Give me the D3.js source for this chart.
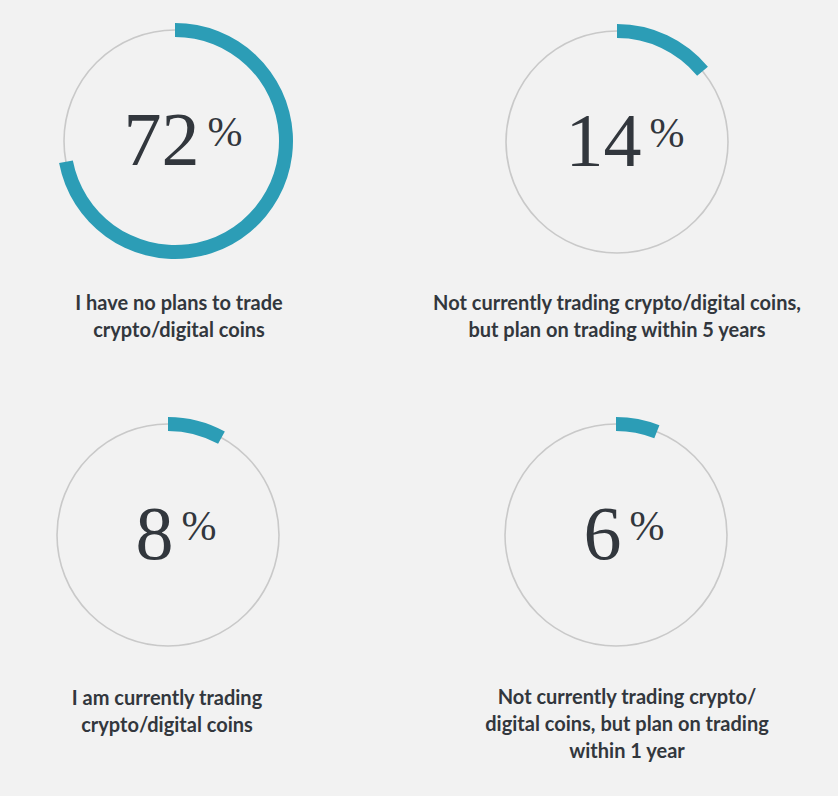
<!DOCTYPE html>
<html>
<head>
<meta charset="utf-8">
<script src="https://cdn.jsdelivr.net/npm/d3@7"></script>
<style>
  html, body { margin: 0; padding: 0; background: #f2f2f2; }
  svg { display: block; }
</style>
</head>
<body>
<div id="chart"></div>
<script>
// survey answers
const values = [72, 14, 8, 6];
const labels = [
    ['I have no plans to trade', 'crypto/digital coins'],
    ['Not currently trading crypto/digital coins,', 'but plan on trading within 5 years'],
    ['I am currently trading', 'crypto/digital coins'],
    ['Not currently trading crypto/', 'digital coins, but plan on trading', 'within 1 year']
];

// layout of the four panels
const centersX = [175, 617, 168, 616];
const centersY = [141, 142, 535, 535];
const labelX = [179, 617, 167, 627];
const labelY = [310, 310, 705, 704];

const width = 838, height = 796;
const teal = '#2c9db6';
const ink = '#32373d';

const svg = d3.select('#chart').append('svg')
    .attr('width', width)
    .attr('height', height);

const angle = d3.scaleLinear().domain([0, 100]).range([0, 2 * Math.PI]);

const ringArc = d3.arc()
    .innerRadius(104)
    .outerRadius(118)
    .startAngle(0);

values.forEach((v, i) => {
    const g = svg.append('g')
        .attr('transform', `translate(${centersX[i]},${centersY[i]})`);

    g.append('circle')
        .attr('r', 111)
        .attr('fill', 'none')
        .attr('stroke', '#c9c9c9')
        .attr('stroke-width', 1.6);

    g.append('path')
        .attr('d', ringArc.endAngle(angle(v))())
        .attr('fill', teal);

    const num = g.append('text')
        .attr('x', 8)
        .attr('y', 24)
        .attr('text-anchor', 'middle')
        .attr('fill', ink)
        .style('font-family', '"Liberation Serif", "DejaVu Serif", serif');
    num.append('tspan')
        .style('font-size', '76px')
        .text(v);
    num.append('tspan')
        .attr('dx', 8)
        .attr('dy', -19)
        .style('font-size', '42px')
        .text('%');

    const lab = svg.append('text')
        .attr('text-anchor', 'middle')
        .attr('fill', ink)
        .style('font-family', 'Lato, "Open Sans", sans-serif')
        .style('font-weight', 700)
        .style('font-size', '20px');
    lab.selectAll('tspan')
        .data(labels[i])
        .join('tspan')
        .attr('x', labelX[i])
        .attr('y', (d, j) => labelY[i] + j * 27)
        .text(d => d);
});
</script>
</body>
</html>
